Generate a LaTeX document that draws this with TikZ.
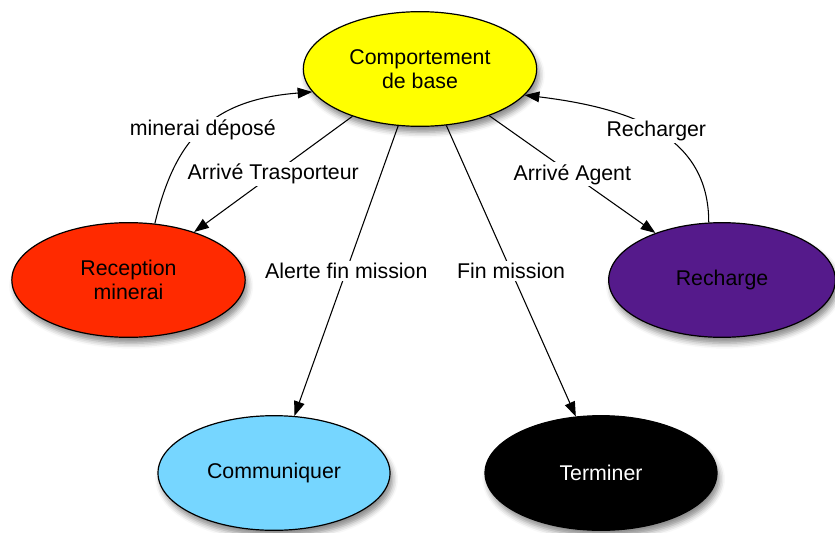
\documentclass[tikz,border=0pt]{standalone}
\usepackage{fontspec}
\setmainfont{Liberation Sans}
\usetikzlibrary{arrows.meta,shapes.geometric,shadows.blur}
\definecolor{jaune}{RGB}{255,255,0}
\definecolor{rouge}{RGB}{255,42,0}
\definecolor{violet}{RGB}{85,26,139}
\definecolor{bleuclair}{RGB}{118,214,255}

\begin{document}
\begin{tikzpicture}[x=0.75pt,y=-0.75pt,>={Triangle[length=11pt,width=8pt]},
  etat/.style={ellipse,draw,line width=0.9pt,align=center,inner sep=0pt,
    font=\fontsize{16}{18.5}\selectfont,
    blur shadow={shadow xshift=2pt,shadow yshift=-4.5pt,shadow blur radius=4pt,shadow opacity=45}},
  lab/.style={fill=white,inner sep=1.5pt,font=\fontsize{16}{18.5}\selectfont},
  lien/.style={->,line width=0.8pt}]
\useasboundingbox (0,0) rectangle (835,532);
\node[etat,fill=jaune,minimum width=175pt,minimum height=86pt] (base) at (420,69) {Comportement\\de base};
\node[etat,fill=rouge,minimum width=175pt,minimum height=86pt] (rec) at (128.5,280) {Reception\\minerai};
\node[etat,fill=violet,minimum width=170pt,minimum height=86pt] (rech) at (722,280) {Recharge};
\node[etat,fill=bleuclair,minimum width=174pt,minimum height=86pt] (comm) at (274,473) {Communiquer};
\node[etat,fill=black,text=white,minimum width=174pt,minimum height=86pt] (term) at (601,473) {Terminer};
\draw[lien] (base.-145) -- node[lab]{Arrivé Trasporteur} (rec);
\draw[lien] (base.-34) -- node[lab]{Arrivé Agent} (rech);
\draw[lien] (base.-111) -- node[lab]{Alerte fin mission} (comm);
\draw[lien] (base.-65) -- node[lab]{Fin mission} (term);
\draw[lien] (rec.65) .. controls (175,140) and (210,100) .. node[lab,pos=0.5]{minerai déposé} (base.-168);
\draw[lien] (rech.103) .. controls (709,135) and (630,108) .. node[lab,pos=0.5]{Recharger} (base.-14);
\end{tikzpicture}
\end{document}
